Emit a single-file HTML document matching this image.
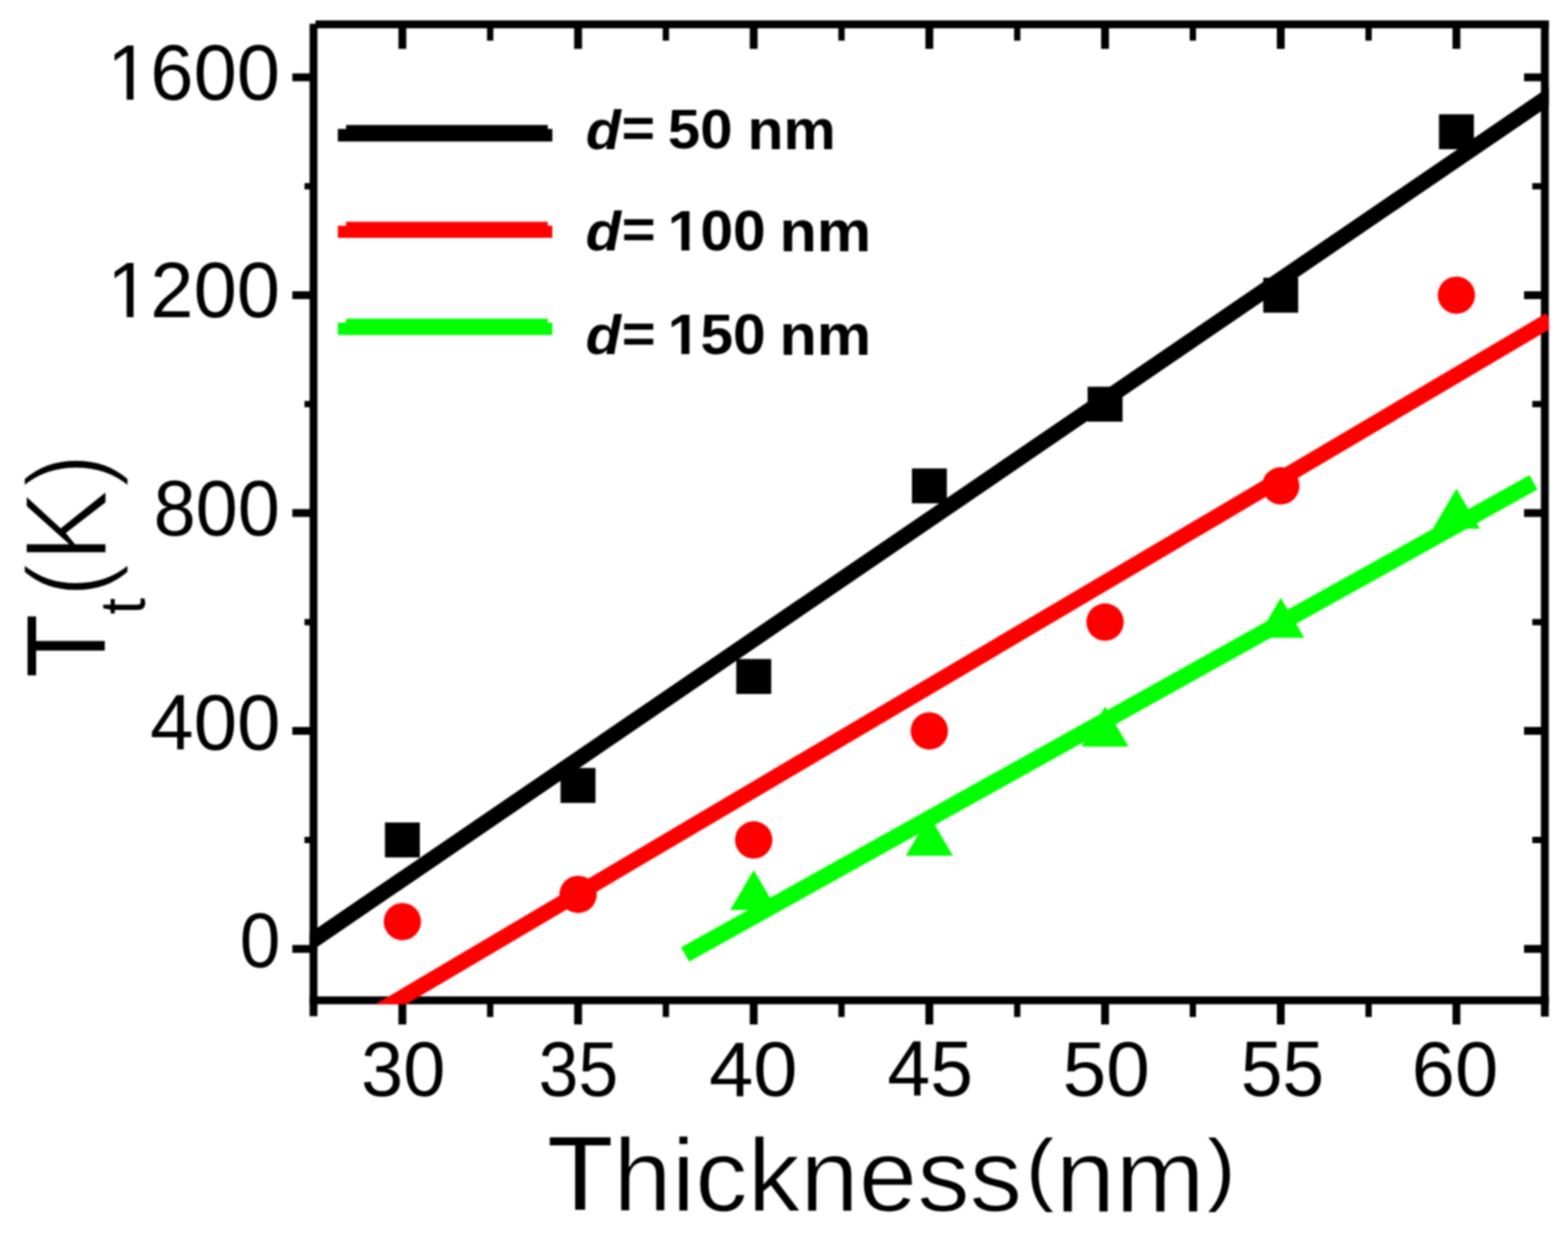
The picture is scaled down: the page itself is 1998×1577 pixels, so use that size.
<!DOCTYPE html>
<html><head><meta charset="utf-8"><title>T_t vs Thickness</title>
<style>html,body{margin:0;padding:0;background:#fff;}body{width:1998px;height:1577px;overflow:hidden;}svg{display:block;filter:blur(1.1px);}</style>
</head><body>
<svg width="1998" height="1577" viewBox="0 0 1998 1577"><rect width="1998" height="1577" fill="#fff"/><line x1="399.5" y1="30.3" x2="399.5" y2="1294.5" stroke="#000" stroke-width="10.0"/>
<line x1="1968.5" y1="26.0" x2="1968.5" y2="1295" stroke="#000" stroke-width="10.0"/>
<line x1="402" y1="31.0" x2="1973.5" y2="31.0" stroke="#000" stroke-width="10.0"/>
<line x1="394.5" y1="1274.3" x2="1973.5" y2="1274.3" stroke="#000" stroke-width="10.0"/>
<path d="M512.7 1274.3V1305 M512.7 31.0V62.3 M736.6 1274.3V1305 M736.6 31.0V62.3 M960.4 1274.3V1305 M960.4 31.0V62.3 M1184.2 1274.3V1305 M1184.2 31.0V62.3 M1408.1 1274.3V1305 M1408.1 31.0V62.3 M1632.0 1274.3V1305 M1632.0 31.0V62.3 M1855.8 1274.3V1305 M1855.8 31.0V62.3 M372.5 1208.7H399.5 M1942 1208.7H1968.5 M372.5 931.1H399.5 M1942 931.1H1968.5 M372.5 653.6H399.5 M1942 653.6H1968.5 M372.5 376.0H399.5 M1942 376.0H1968.5 M372.5 98.5H399.5 M1942 98.5H1968.5" stroke="#000" stroke-width="10" fill="none"/>
<path d="M624.6 1274.3V1295.5 M624.6 31.0V51.8 M848.5 1274.3V1295.5 M848.5 31.0V51.8 M1072.3 1274.3V1295.5 M1072.3 31.0V51.8 M1296.2 1274.3V1295.5 M1296.2 31.0V51.8 M1520.0 1274.3V1295.5 M1520.0 31.0V51.8 M1743.9 1274.3V1295.5 M1743.9 31.0V51.8 M388 1069.9H399.5 M1952.5 1069.9H1968.5 M388 792.4H399.5 M1952.5 792.4H1968.5 M388 514.8H399.5 M1952.5 514.8H1968.5 M388 237.3H399.5 M1952.5 237.3H1968.5" stroke="#000" stroke-width="8" fill="none"/>
<defs><clipPath id="pc"><rect x="394.5" y="26" width="1579" height="1253.3"/></clipPath></defs>
<g clip-path="url(#pc)" stroke-width="20" fill="none" stroke-linecap="butt">
<line x1="380" y1="1210.7" x2="1990" y2="111.6" stroke="#000"/>
<line x1="480" y1="1289.8" x2="1975" y2="407.6" stroke="#f00"/>
<line x1="873" y1="1215.9" x2="1954" y2="614.3" stroke="#0f0" stroke-width="21"/>
</g>
<rect x="490.5" y="1047.7" width="44.5" height="44.5" fill="#000"/>
<rect x="714.3" y="978.3" width="44.5" height="44.5" fill="#000"/>
<rect x="938.2" y="839.5" width="44.5" height="44.5" fill="#000"/>
<rect x="1162.0" y="596.7" width="44.5" height="44.5" fill="#000"/>
<rect x="1385.9" y="492.6" width="44.5" height="44.5" fill="#000"/>
<rect x="1609.7" y="353.8" width="44.5" height="44.5" fill="#000"/>
<rect x="1833.6" y="145.6" width="44.5" height="44.5" fill="#000"/>
<circle cx="512.7" cy="1174.0" r="23.8" fill="#f00"/>
<circle cx="736.6" cy="1139.3" r="23.8" fill="#f00"/>
<circle cx="960.4" cy="1069.9" r="23.8" fill="#f00"/>
<circle cx="1184.2" cy="931.1" r="23.8" fill="#f00"/>
<circle cx="1408.1" cy="792.4" r="23.8" fill="#f00"/>
<circle cx="1632.0" cy="618.9" r="23.8" fill="#f00"/>
<circle cx="1855.8" cy="376.0" r="23.8" fill="#f00"/>
<path d="M960.4 1108.3L990.4 1159.3L930.4 1159.3Z" fill="#0f0"/>
<path d="M1184.2 1038.9L1214.2 1089.9L1154.2 1089.9Z" fill="#0f0"/>
<path d="M1408.1 900.1L1438.1 951.1L1378.1 951.1Z" fill="#0f0"/>
<path d="M1632.0 761.4L1662.0 812.4L1602.0 812.4Z" fill="#0f0"/>
<path d="M1855.8 622.6L1885.8 673.6L1825.8 673.6Z" fill="#0f0"/>
<path d="M430.5 164.3H441V159.3H698V164.3H703.8V180.3H430.5Z" fill="#000"/>
<path d="M430.5 287.6H441V282.6H698V287.6H703.8V303.0H430.5Z" fill="#f00"/>
<path d="M430.5 411.0H441V406.0H698V411.0H703.8V426.7H430.5Z" fill="#0f0"/>
<g transform="matrix(1.0010 0 0 0.9528 0.00 0.00)"><text font-family="'Liberation Sans', Arial, sans-serif" font-weight="bold"><tspan x="745.80" y="199.15" font-size="73" font-style="italic">d</tspan><tspan x="791.21" y="196.79" font-size="73" >= </tspan><tspan x="850.25" y="198.10" font-size="74" >50 </tspan><tspan x="951.45" y="199.67" font-size="75" >nm</tspan></text></g>
<g transform="matrix(1.0122 0 0 0.9679 0.00 0.00)"><defs><clipPath id="cf_leg2" clipPathUnits="userSpaceOnUse"><path clip-rule="evenodd" d="M-100 -100H2100V1700H-100ZM842.16 320.06H857.77V332.11H842.16ZM867.92 320.06H882.59V332.11H867.92Z"/></clipPath></defs><text clip-path="url(#cf_leg2)" font-family="'Liberation Sans', Arial, sans-serif" font-weight="bold"><tspan x="737.16" y="329.11" font-size="73" font-style="italic">d</tspan><tspan x="782.70" y="326.94" font-size="73" >= </tspan><tspan x="840.50" y="329.11" font-size="74" >100 </tspan><tspan x="981.23" y="331.08" font-size="77" >nm</tspan></text></g>
<g transform="matrix(1.0122 0 0 0.9660 0.00 0.00)"><defs><clipPath id="cf_leg3" clipPathUnits="userSpaceOnUse"><path clip-rule="evenodd" d="M-100 -100H2100V1700H-100ZM842.16 458.13H857.77V470.18H842.16ZM867.92 458.13H882.59V470.18H867.92Z"/></clipPath></defs><text clip-path="url(#cf_leg3)" font-family="'Liberation Sans', Arial, sans-serif" font-weight="bold"><tspan x="737.16" y="467.18" font-size="73" font-style="italic">d</tspan><tspan x="782.70" y="465.27" font-size="73" >= </tspan><tspan x="840.50" y="467.18" font-size="74" >150 </tspan><tspan x="981.23" y="468.12" font-size="77" >nm</tspan></text></g>
<g transform="matrix(0.9900 0 0 1.0056 5.33 -1.83)"><defs><clipPath id="cy1600" clipPathUnits="userSpaceOnUse"><path clip-rule="evenodd" d="M0 0H2000V1600H0ZM137.16 119.83H157.69V130.90H137.16ZM166.52 119.83H186.27V130.90H166.52Z"/></clipPath></defs><text x="355" y="127.9" text-anchor="end" clip-path="url(#cy1600)" font-family="'Liberation Sans', Arial, sans-serif" font-size="100">1600</text></g>
<g transform="matrix(0.9900 0 0 1.0014 5.33 -2.07)"><defs><clipPath id="cy1200" clipPathUnits="userSpaceOnUse"><path clip-rule="evenodd" d="M0 0H2000V1600H0ZM137.16 397.43H157.69V408.50H137.16ZM166.52 397.43H186.27V408.50H166.52Z"/></clipPath></defs><text x="355" y="405.5" text-anchor="end" clip-path="url(#cy1200)" font-family="'Liberation Sans', Arial, sans-serif" font-size="100">1200</text></g>
<g transform="matrix(0.9652 0 0 0.9986 14.02 -0.54)"><text x="355" y="683.5" text-anchor="end" font-family="'Liberation Sans', Arial, sans-serif" font-size="100">800</text></g>
<g transform="matrix(0.9963 0 0 0.9930 3.82 6.03)"><text x="355" y="955.3" text-anchor="end" font-family="'Liberation Sans', Arial, sans-serif" font-size="100">400</text></g>
<g transform="matrix(0.9312 0 0 0.9845 26.63 18.12)"><text x="355" y="1233.0" text-anchor="end" font-family="'Liberation Sans', Arial, sans-serif" font-size="100">0</text></g>
<g transform="matrix(0.9670 0 0 0.9887 17.05 15.54)"><text x="513.6" y="1396" text-anchor="middle" font-family="'Liberation Sans', Arial, sans-serif" font-size="100">30</text></g>
<g transform="matrix(0.9127 0 0 0.9887 64.36 15.54)"><text x="737.0" y="1396" text-anchor="middle" font-family="'Liberation Sans', Arial, sans-serif" font-size="100">35</text></g>
<g transform="matrix(1.0152 0 0 0.9887 -13.91 15.54)"><text x="959.2" y="1396" text-anchor="middle" font-family="'Liberation Sans', Arial, sans-serif" font-size="100">40</text></g>
<g transform="matrix(0.9810 0 0 1.0029 23.44 -4.19)"><text x="1184.4" y="1396" text-anchor="middle" font-family="'Liberation Sans', Arial, sans-serif" font-size="100">45</text></g>
<g transform="matrix(1.0010 0 0 0.9887 -1.32 15.54)"><text x="1409.5" y="1396" text-anchor="middle" font-family="'Liberation Sans', Arial, sans-serif" font-size="100">50</text></g>
<g transform="matrix(0.9573 0 0 1.0029 69.62 -4.19)"><text x="1634.3" y="1396" text-anchor="middle" font-family="'Liberation Sans', Arial, sans-serif" font-size="100">55</text></g>
<g transform="matrix(0.9922 0 0 0.9887 13.95 15.54)"><text x="1854.4" y="1396" text-anchor="middle" font-family="'Liberation Sans', Arial, sans-serif" font-size="100">60</text></g>
<g transform="matrix(0.9922 0 0 0.9742 0.00 0.00)"><text font-family="'Liberation Sans', Arial, sans-serif"><tspan x="702.98" y="1582.27" font-size="138" >T</tspan><tspan x="787.64" y="1583.81" font-size="135" stroke="#fff" stroke-width="1.5">hickness</tspan><tspan x="1318.03" y="1563.59" font-size="105" >(</tspan><tspan x="1355.57" y="1585.40" font-size="138" stroke="#fff" stroke-width="1.5">nm</tspan><tspan x="1551.05" y="1563.59" font-size="105" >)</tspan></text></g>
<g transform="matrix(1.0394 0 0 0.9701 0.00 0.00)"><text transform="rotate(-90)" font-family="'Liberation Sans', Arial, sans-serif"><tspan x="-889.86" y="128.78" font-size="137" >T</tspan><tspan x="-806.93" y="177.51" font-size="78" >t</tspan><tspan x="-784.82" y="128.49" font-size="137" stroke="#fff" stroke-width="3">(</tspan><tspan x="-738.53" y="130.65" font-size="145" stroke="#fff" stroke-width="3">K</tspan><tspan x="-640.55" y="128.49" font-size="137" stroke="#fff" stroke-width="3">)</tspan></text></g></svg>
</body></html>
